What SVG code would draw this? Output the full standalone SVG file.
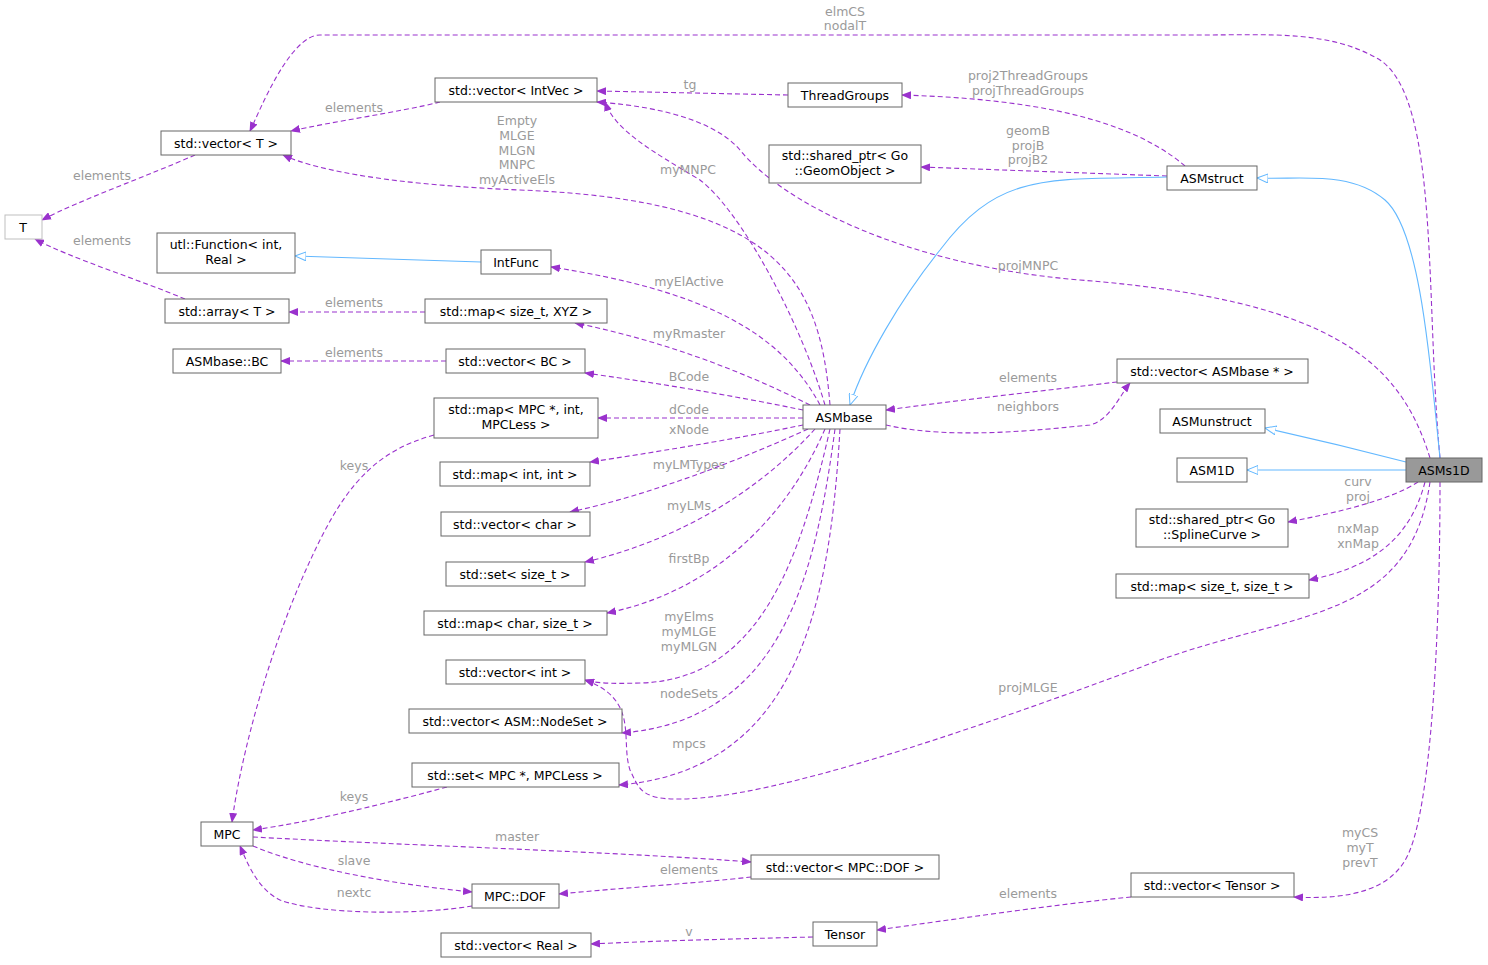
<svg xmlns="http://www.w3.org/2000/svg" width="1488" height="965" viewBox="0 0 1488 965">
<style>
text{font-family:"DejaVu Sans","Liberation Sans",sans-serif;font-size:12.5px;text-anchor:middle}
.n rect{fill:#fff;stroke:#666;stroke-width:1}
.n text{fill:#000}
.l{fill:#9a9a9a}
.d{fill:none;stroke:#9a32cd;stroke-width:1.1;stroke-dasharray:5,3}
.b{fill:none;stroke:#63b8ff;stroke-width:1.1}
</style>
<defs>
<marker id="a" markerWidth="10" markerHeight="8" refX="9" refY="4" orient="auto" markerUnits="userSpaceOnUse"><path d="M0,0L10,4L0,8z" fill="#9a32cd"/></marker>
<marker id="i" markerWidth="12" markerHeight="10" refX="11" refY="5" orient="auto" markerUnits="userSpaceOnUse"><path d="M0,0.5L11,5L0,9.5z" fill="#fff" stroke="#63b8ff"/></marker>
</defs>
<rect width="1488" height="965" fill="#fff"/>
<g id="edges">
<path class="d" marker-end="url(#a)" d="M1440,458C1425,300 1440,100 1380,60C1330,30 1270,35 1200,35L320,35C290,35 260,110 250,131"/>
<text class="l" x="845" y="16">elmCS</text><text class="l" x="845" y="30">nodalT</text>
<path class="d" marker-end="url(#a)" d="M788,95L597,91"/><text class="l" x="690" y="89">tg</text>
<path class="d" marker-end="url(#a)" d="M440,102C400,112 330,122 291,131"/><text class="l" x="354" y="112">elements</text>
<path class="d" marker-end="url(#a)" d="M195,155C150,175 80,200 42,220"/><text class="l" x="102" y="180">elements</text>
<path class="d" marker-end="url(#a)" d="M185,299C140,280 70,258 35,239"/><text class="l" x="102" y="245">elements</text>
<path class="d" marker-end="url(#a)" d="M1185,166C1120,110 1000,98 902,95"/><text class="l" x="1028" y="80">proj2ThreadGroups</text><text class="l" x="1028" y="95">projThreadGroups</text>
<path class="d" marker-end="url(#a)" d="M1167,176L921,167"/><text class="l" x="1028" y="135">geomB</text><text class="l" x="1028" y="150">projB</text><text class="l" x="1028" y="164">projB2</text>
<path class="b" marker-end="url(#i)" d="M1440,458C1430,360 1420,230 1385,200C1350,170 1300,180 1257,178"/>
<path class="b" marker-end="url(#i)" d="M1167,177C1050,180 1000,170 940,250C900,300 865,360 850,405"/>
<path class="d" marker-end="url(#a)" d="M830,405C820,280 780,200 520,190C400,185 320,172 283,155"/>
<text class="l" x="517" y="125">Empty</text><text class="l" x="517" y="140">MLGE</text><text class="l" x="517" y="155">MLGN</text><text class="l" x="517" y="169">MNPC</text><text class="l" x="517" y="184">myActiveEls</text>
<path class="d" marker-end="url(#a)" d="M825,405C800,320 740,210 700,180C650,150 615,130 605,102"/><text class="l" x="688" y="174">myMNPC</text>
<path class="d" marker-end="url(#a)" d="M1430,458C1400,360 1330,300 1080,280C900,265 780,200 740,150C710,115 640,105 597,102"/><text class="l" x="1028" y="270">projMNPC</text>
<path class="b" marker-end="url(#i)" d="M481,262L295,256"/>
<path class="d" marker-end="url(#a)" d="M820,405C780,330 700,290 551,267"/><text class="l" x="689" y="286">myElActive</text>
<path class="d" marker-end="url(#a)" d="M425,312L289,312"/><text class="l" x="354" y="307">elements</text>
<path class="d" marker-end="url(#a)" d="M810,405C740,370 660,340 575,323"/><text class="l" x="689" y="338">myRmaster</text>
<path class="d" marker-end="url(#a)" d="M446,361L281,361"/><text class="l" x="354" y="357">elements</text>
<path class="d" marker-end="url(#a)" d="M803,410C730,395 650,382 585,373"/><text class="l" x="689" y="381">BCode</text>
<path class="d" marker-end="url(#a)" d="M803,418L598,418"/><text class="l" x="689" y="414">dCode</text>
<path class="d" marker-end="url(#a)" d="M803,425C730,440 650,453 590,462"/><text class="l" x="689" y="434">xNode</text>
<path class="d" marker-end="url(#a)" d="M808,429C740,460 650,495 570,512"/><text class="l" x="689" y="469">myLMTypes</text>
<path class="d" marker-end="url(#a)" d="M815,429C760,490 680,540 585,562"/><text class="l" x="689" y="510">myLMs</text>
<path class="d" marker-end="url(#a)" d="M825,429C790,510 720,590 607,613"/><text class="l" x="689" y="563">firstBp</text>
<path class="d" marker-end="url(#a)" d="M830,429C800,560 760,680 640,683C610,684 595,683 585,680"/><text class="l" x="689" y="621">myElms</text><text class="l" x="689" y="636">myMLGE</text><text class="l" x="689" y="651">myMLGN</text>
<path class="d" marker-end="url(#a)" d="M835,429C815,580 780,720 622,733"/><text class="l" x="689" y="698">nodeSets</text>
<path class="d" marker-end="url(#a)" d="M840,429C830,600 800,770 619,785"/><text class="l" x="689" y="748">mpcs</text>
<path class="d" marker-end="url(#a)" d="M886,425C950,440 1040,430 1090,425C1110,420 1120,395 1130,383"/><text class="l" x="1028" y="411">neighbors</text>
<path class="d" marker-end="url(#a)" d="M1117,382C1050,390 960,400 886,410"/><text class="l" x="1028" y="382">elements</text>
<path class="b" marker-end="url(#i)" d="M1406,462C1360,450 1310,438 1265,428"/>
<path class="b" marker-end="url(#i)" d="M1406,470L1247,470"/>
<path class="d" marker-end="url(#a)" d="M1418,482C1390,500 1340,512 1288,522"/><text class="l" x="1358" y="486">curv</text><text class="l" x="1358" y="501">proj</text>
<path class="d" marker-end="url(#a)" d="M1425,482C1410,540 1370,568 1309,580"/><text class="l" x="1358" y="533">nxMap</text><text class="l" x="1358" y="548">xnMap</text>
<path class="d" marker-end="url(#a)" d="M1430,482C1410,620 1300,610 1160,660C1000,720 800,790 700,798C640,803 640,790 630,770C620,740 640,700 585,680"/><text class="l" x="1028" y="692">projMLGE</text>
<path class="d" marker-end="url(#a)" d="M434,435C380,450 350,480 320,540C270,640 240,760 232,822"/><text class="l" x="354" y="470">keys</text>
<path class="d" marker-end="url(#a)" d="M447,787C380,805 310,822 253,830"/><text class="l" x="354" y="801">keys</text>
<path class="d" marker-end="url(#a)" d="M253,837C400,845 620,852 751,862"/><text class="l" x="517" y="841">master</text>
<path class="d" marker-end="url(#a)" d="M253,846C310,870 400,885 472,892"/><text class="l" x="354" y="865">slave</text>
<path class="d" marker-end="url(#a)" d="M472,906C420,915 320,915 280,900C260,890 250,870 240,846"/><text class="l" x="354" y="897">nextc</text>
<path class="d" marker-end="url(#a)" d="M751,877C700,883 620,888 559,894"/><text class="l" x="689" y="874">elements</text>
<path class="d" marker-end="url(#a)" d="M1440,482C1440,650 1430,800 1410,850C1395,890 1350,900 1294,897"/><text class="l" x="1360" y="837">myCS</text><text class="l" x="1360" y="852">myT</text><text class="l" x="1360" y="867">prevT</text>
<path class="d" marker-end="url(#a)" d="M1131,897C1050,905 950,920 877,930"/><text class="l" x="1028" y="898">elements</text>
<path class="d" marker-end="url(#a)" d="M813,937C730,939 650,941 591,944"/><text class="l" x="689" y="936">v</text>
</g>
<g id="T" class="n"><rect x="5" y="215" width="37" height="24" style="stroke:#bfbfbf"/><text x="23" y="232">T</text></g>
<g id="vecT" class="n"><rect x="161" y="131" width="130" height="24"/><text x="226" y="148">std::vector&lt; T &gt;</text></g>
<g id="vecIntVec" class="n"><rect x="435" y="78" width="162" height="24"/><text x="516" y="95">std::vector&lt; IntVec &gt;</text></g>
<g id="ThreadGroups" class="n"><rect x="788" y="83" width="114" height="24"/><text x="845" y="100">ThreadGroups</text></g>
<g id="spGeom" class="n"><rect x="769" y="145" width="152" height="38"/><text x="845" y="160">std::shared_ptr&lt; Go</text><text x="845" y="175">::GeomObject &gt;</text></g>
<g id="ASMstruct" class="n"><rect x="1167" y="166" width="90" height="24"/><text x="1212" y="183">ASMstruct</text></g>
<g id="utlFunc" class="n"><rect x="157" y="233" width="138" height="40"/><text x="226" y="249">utl::Function&lt; int,</text><text x="226" y="264">Real &gt;</text></g>
<g id="IntFunc" class="n"><rect x="481" y="250" width="70" height="24"/><text x="516" y="267">IntFunc</text></g>
<g id="arrT" class="n"><rect x="165" y="299" width="124" height="24"/><text x="227" y="316">std::array&lt; T &gt;</text></g>
<g id="mapXYZ" class="n"><rect x="425" y="299" width="182" height="24"/><text x="516" y="316">std::map&lt; size_t, XYZ &gt;</text></g>
<g id="BC" class="n"><rect x="173" y="349" width="108" height="24"/><text x="227" y="366">ASMbase::BC</text></g>
<g id="vecBC" class="n"><rect x="446" y="349" width="139" height="24"/><text x="515" y="366">std::vector&lt; BC &gt;</text></g>
<g id="mapMPC" class="n"><rect x="434" y="398" width="164" height="40"/><text x="516" y="414">std::map&lt; MPC *, int,</text><text x="516" y="429">MPCLess &gt;</text></g>
<g id="ASMbase" class="n"><rect x="803" y="405" width="83" height="24"/><text x="844" y="422">ASMbase</text></g>
<g id="vecASMbase" class="n"><rect x="1117" y="359" width="191" height="24"/><text x="1212" y="376">std::vector&lt; ASMbase * &gt;</text></g>
<g id="ASMunstruct" class="n"><rect x="1160" y="409" width="105" height="24"/><text x="1212" y="426">ASMunstruct</text></g>
<g id="ASM1D" class="n"><rect x="1177" y="458" width="70" height="24"/><text x="1212" y="475">ASM1D</text></g>
<g id="ASMs1D" class="n"><rect x="1406" y="458" width="76" height="24" style="fill:#999"/><text x="1444" y="475">ASMs1D</text></g>
<g id="mapIntInt" class="n"><rect x="440" y="462" width="150" height="24"/><text x="515" y="479">std::map&lt; int, int &gt;</text></g>
<g id="vecChar" class="n"><rect x="441" y="512" width="149" height="24"/><text x="515" y="529">std::vector&lt; char &gt;</text></g>
<g id="setSize" class="n"><rect x="446" y="562" width="139" height="24"/><text x="515" y="579">std::set&lt; size_t &gt;</text></g>
<g id="mapChar" class="n"><rect x="424" y="611" width="183" height="24"/><text x="515" y="628">std::map&lt; char, size_t &gt;</text></g>
<g id="spCurve" class="n"><rect x="1136" y="509" width="152" height="38"/><text x="1212" y="524">std::shared_ptr&lt; Go</text><text x="1212" y="539">::SplineCurve &gt;</text></g>
<g id="mapSize" class="n"><rect x="1116" y="574" width="193" height="24"/><text x="1212" y="591">std::map&lt; size_t, size_t &gt;</text></g>
<g id="vecInt" class="n"><rect x="446" y="660" width="139" height="24"/><text x="515" y="677">std::vector&lt; int &gt;</text></g>
<g id="vecNodeSet" class="n"><rect x="409" y="709" width="213" height="24"/><text x="515" y="726">std::vector&lt; ASM::NodeSet &gt;</text></g>
<g id="setMPC" class="n"><rect x="412" y="763" width="207" height="24"/><text x="515" y="780">std::set&lt; MPC *, MPCLess &gt;</text></g>
<g id="MPC" class="n"><rect x="201" y="822" width="52" height="24"/><text x="227" y="839">MPC</text></g>
<g id="vecDOF" class="n"><rect x="751" y="855" width="188" height="24"/><text x="845" y="872">std::vector&lt; MPC::DOF &gt;</text></g>
<g id="DOF" class="n"><rect x="472" y="884" width="87" height="24"/><text x="515" y="901">MPC::DOF</text></g>
<g id="vecTensor" class="n"><rect x="1131" y="873" width="163" height="24"/><text x="1212" y="890">std::vector&lt; Tensor &gt;</text></g>
<g id="Tensor" class="n"><rect x="813" y="922" width="64" height="24"/><text x="845" y="939">Tensor</text></g>
<g id="vecReal" class="n"><rect x="441" y="933" width="150" height="24"/><text x="516" y="950">std::vector&lt; Real &gt;</text></g>
</svg>
